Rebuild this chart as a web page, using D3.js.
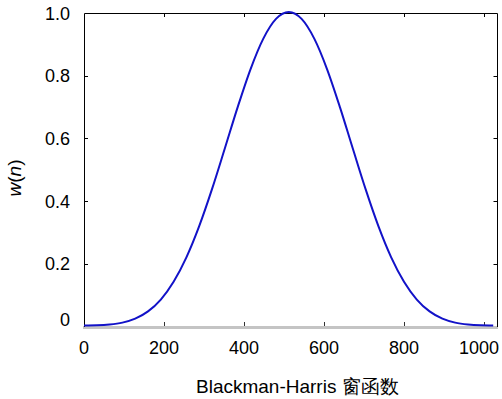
<!DOCTYPE html>
<html><head><meta charset="utf-8">
<script src="https://cdn.jsdelivr.net/npm/d3@7"></script>
<style>
html,body{margin:0;padding:0;background:#fff;}
svg{display:block;}
text{font-family:"Liberation Sans",Arial,sans-serif;fill:#000;}
</style></head>
<body>
<svg id="chart" width="502" height="399"></svg>
<script>
// sample index n
const sampleN = [0,32,64,96,128,160,192,224,256,288,320,352,384,416,448,480,512,
  544,576,608,640,672,704,736,768,800,832,864,896,928,960,992,1023];
// window values w(n)
const windowValues = [0.0001,0.0007,0.0031,0.0091,0.0217,0.0449,0.0828,0.1395,0.2175,0.3170,0.4349,0.5645,0.6958,0.8165,0.9142,0.9779,1.0000,
  0.9779,0.9142,0.8165,0.6958,0.5645,0.4349,0.3170,0.2175,0.1395,0.0828,0.0449,0.0217,0.0091,0.0031,0.0007,0.0001];
const xTicks = [0,200,400,600,800,1000];
const xTickLabels = ["0","200","400","600","800","1000"];
const yTicks = [0,0.2,0.4,0.6,0.8,1.0];
const yTickLabels = ["0","0.2","0.4","0.6","0.8","1.0"];
const xLabelText = "Blackman-Harris 窗函数";

const svg = d3.select("#chart");
const L = 84, R = 497, T = 13, B = 326.5;
const x = d3.scaleLinear().domain([0,1032.5]).range([L,R]);
const y = d3.scaleLinear().domain([0,1]).range([B,T]);

// bottom grey axis band
svg.append("rect").attr("x",83).attr("y",326).attr("width",R-83+1).attr("height",3).attr("fill","#c4c4c4");

// frame (top, left, right)
svg.append("path")
  .attr("d",`M${L},${B}V${T}H${R}V${B}`)
  .attr("fill","none").attr("stroke","#000").attr("stroke-width",1)
  .attr("transform","translate(0.5,0.5)");

// ticks
const tl = 4;
xTicks.forEach(v=>{
  const px = Math.round(x(v))+0.5;
  if (v>0) {
    svg.append("line").attr("x1",px).attr("x2",px).attr("y1",T).attr("y2",T+tl).attr("stroke","#000");
    svg.append("line").attr("x1",px).attr("x2",px).attr("y1",326).attr("y2",326-tl).attr("stroke","#333");
  }
});
yTicks.forEach(v=>{
  const py = Math.round(y(v))+0.5;
  if (v>0 && v<1) {
    svg.append("line").attr("x1",L).attr("x2",L+tl).attr("y1",py).attr("y2",py).attr("stroke","#000");
    svg.append("line").attr("x1",R+0.5).attr("x2",R+0.5-tl).attr("y1",py).attr("y2",py).attr("stroke","#000");
  }
});

// tick labels
svg.selectAll(".xt").data(xTicks).enter().append("text")
  .attr("x",d=>x(d) - (d===1000?5:0)).attr("y",354)
  .attr("text-anchor","middle").attr("font-size",18)
  .text((d,i)=>xTickLabels[i]);
svg.selectAll(".yt").data(yTicks).enter().append("text")
  .attr("x",70).attr("y",d=>y(d)+6.5-(d===0?7:0))
  .attr("text-anchor","end").attr("font-size",18)
  .text((d,i)=>yTickLabels[i]);

// curve
const line = d3.line().x((d,i)=>x(sampleN[i])).y(d=>y(d)-1).curve(d3.curveMonotoneX);
svg.append("path").datum(windowValues).attr("d",line)
  .attr("fill","none").attr("stroke","#1212c8").attr("stroke-width",2);

// x label
svg.append("text").attr("x",196).attr("y",393).attr("font-size",19)
  .text(xLabelText);

// y label
const yl = svg.append("text").attr("transform","translate(21,178) rotate(-90)")
  .attr("text-anchor","middle").attr("font-size",19);
yl.append("tspan").attr("font-style","italic").text("w");
yl.append("tspan").text("(");
yl.append("tspan").attr("font-style","italic").text("n");
yl.append("tspan").text(")");
</script>
</body></html>
